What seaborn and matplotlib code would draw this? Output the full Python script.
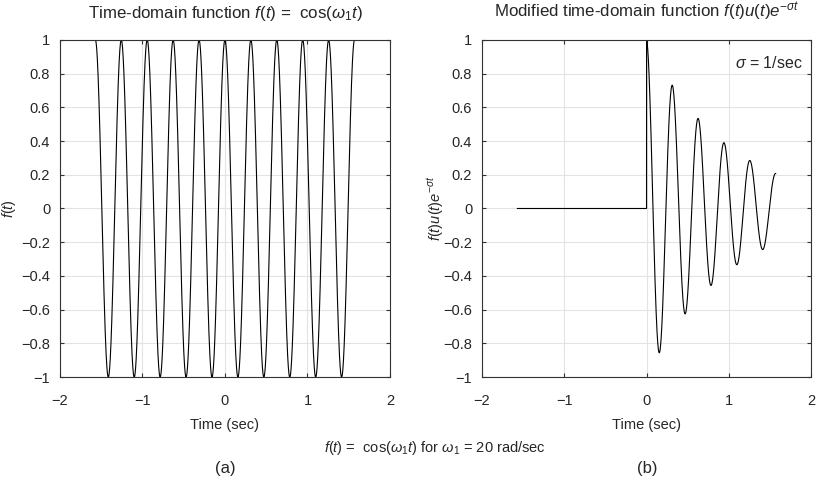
import numpy as np
import pandas as pd
import matplotlib
matplotlib.use("Agg")
import matplotlib.pyplot as plt
import seaborn as sns

# parameters shown on the chart
omega1 = 20.0      # rad/sec
sigma = 1.0        # 1/sec
t_start = -np.pi / 2
t_end = np.pi / 2
n_samples = 4000

x_ticks = [-2, -1, 0, 1, 2]
y_ticks = [-1, -0.8, -0.6, -0.4, -0.2, 0, 0.2, 0.4, 0.6, 0.8, 1]
y_ticklabels = ["\u22121", "\u22120.8", "\u22120.6", "\u22120.4", "\u22120.2", "0",
                "0.2", "0.4", "0.6", "0.8", "1"]
x_ticklabels = ["\u22122", "\u22121", "0", "1", "2"]

# time samples and signals
t = np.linspace(t_start, t_end, n_samples)
f_t = np.cos(omega1 * t)
t_pos = t[t >= 0]
t_neg = np.append(t[t < 0], 0.0)
df_a = pd.DataFrame({"t": t, "y": f_t})
df_b = pd.DataFrame({
    "t": np.concatenate([t_neg, t_pos]),
    "y": np.concatenate([np.zeros(len(t_neg)), np.cos(omega1 * t_pos) * np.exp(-sigma * t_pos)]),
})

sns.set_style("whitegrid", {"grid.color": "#e3e3e3", "axes.edgecolor": "#333333",
                            "xtick.direction": "in", "ytick.direction": "in",
                            "xtick.bottom": True, "xtick.top": True,
                            "ytick.left": True, "ytick.right": True})
plt.rcParams["font.family"] = ["Liberation Sans", "DejaVu Sans"]
plt.rcParams["mathtext.fontset"] = "custom"
plt.rcParams["mathtext.rm"] = "Liberation Sans"
plt.rcParams["mathtext.it"] = "Liberation Sans:italic"
plt.rcParams["mathtext.bf"] = "Liberation Sans:bold"

fig = plt.figure(figsize=(8.21, 4.86), dpi=100)
ax1 = fig.add_axes([0.073, 0.224, 0.402, 0.694])
ax2 = fig.add_axes([0.587, 0.224, 0.401, 0.694])

sns.lineplot(data=df_a, x="t", y="y", ax=ax1, color="black", linewidth=0.8, sort=False)
sns.lineplot(data=df_b, x="t", y="y", ax=ax2, color="black", linewidth=0.8, sort=False)

for ax in (ax1, ax2):
    ax.set_xlim(-2, 2)
    ax.set_ylim(-1, 1)
    ax.set_xticks(x_ticks)
    ax.set_xticklabels(x_ticklabels)
    ax.set_yticks(y_ticks)
    ax.set_yticklabels(y_ticklabels)
    ax.tick_params(labelsize=10.5, length=3, color="#333333")
    ax.tick_params(axis="x", pad=12)
    ax.tick_params(axis="y", pad=7)
    ax.set_xlabel("Time (sec)", fontsize=10.5, labelpad=7)
    for s in ax.spines.values():
        s.set_linewidth(0.8)

ax1.set_title(r"Time-domain function $f(t)$ =  cos($\omega_1 t$)", fontsize=12.2, pad=16)
ax2.set_title(r"Modified time-domain function $f(t)u(t)e^{-\sigma t}$", fontsize=12.2, pad=16)
ax1.set_ylabel(r"$f(t)$", fontsize=10.5)
ax2.set_ylabel(r"$f(t)u(t)e^{-\sigma t}$", fontsize=10.5)
ax1.yaxis.set_label_coords(-0.127, 0.5)
ax2.yaxis.set_label_coords(-0.109, 0.5)

ax2.text(1.08, 0.86, r"$\sigma$ = 1/sec", fontsize=11.5, ha="left", va="center")

fig.text(0.53, 0.078, r"$f(t)$ =  cos($\omega_1 t$) for $\omega_1$ = 20 rad/sec",
         ha="center", va="center", fontsize=10.5)
fig.text(0.274, 0.035, "(a)", ha="center", va="center", fontsize=12)
fig.text(0.788, 0.035, "(b)", ha="center", va="center", fontsize=12)

fig.savefig("out.png", dpi=100)
